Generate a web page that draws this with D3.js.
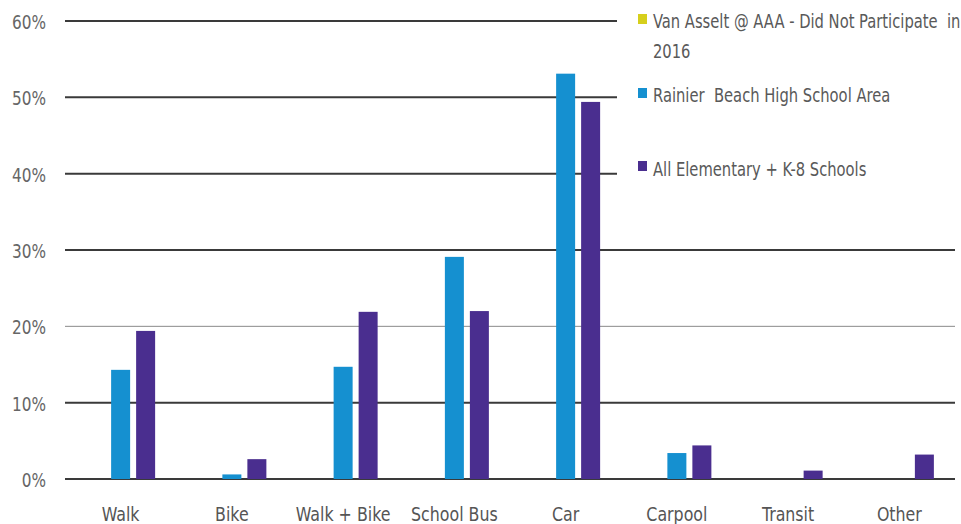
<!DOCTYPE html>
<html><head><meta charset="utf-8">
<script src="https://cdn.jsdelivr.net/npm/d3@7"></script>
<style>
body{margin:0;background:#fff;}
text{font-family:"DejaVu Sans Condensed","DejaVu Sans",sans-serif;}
</style></head>
<body><svg id="c" width="961" height="524"></svg>
<script>
const categories = ["Walk","Bike","Walk + Bike","School Bus","Car","Carpool","Transit","Other"];
const seriesNames = ["Van Asselt @ AAA - Did Not Participate  in 2016","Rainier  Beach High School Area","All Elementary + K-8 Schools"];
const vanAsselt = [0,0,0,0,0,0,0,0];
const rainierBeach = [14.3,0.6,14.7,29.1,53.1,3.4,0,0];
const allElementary = [19.4,2.6,21.9,22.0,49.4,4.4,1.1,3.2];
const yTicks = [0,10,20,30,40,50,60];
const colors = ["#d6cf1c","#1590d0","#4a2e8f"];
const seriesValues = [vanAsselt, rainierBeach, allElementary];

const svg = d3.select("#c");
const x = d3.scaleBand().domain(categories).range([65,955]).padding(0);
const x1 = d3.scaleBand().domain([0,1,2]).range([-34.5,34.5]).paddingInner(0.24);
const y = d3.scaleLinear().domain([0,60]).range([479,21]);
const SX = 0.85;

// gridlines
const gridEnd = v => v >= 40 ? 617 : 955;
svg.append("g").selectAll("line").data(yTicks).join("line")
  .attr("x1",65).attr("x2",d=>gridEnd(d))
  .attr("y1",d=>y(d)).attr("y2",d=>y(d))
  .attr("stroke",d=>d===20?"#8a8a8a":"#3a3a3a")
  .attr("stroke-width",d=>d===20?1:2);

// y labels
svg.append("g").selectAll("text").data(yTicks).join("text")
  .attr("transform",d=>`translate(46,${y(d)+8}) scale(${SX},1)`)
  .attr("text-anchor","end").attr("font-size",20).attr("fill","#666")
  .text(d=>d+"%");

// bars
const groups = svg.append("g").selectAll("g").data(categories).join("g")
  .attr("transform",d=>`translate(${x(d)+x.bandwidth()/2},0)`);
groups.selectAll("rect").data((d,i)=>seriesValues.map((s,j)=>({j,v:s[i]})).filter(e=>e.v>0)).join("rect")
  .attr("x",d=>x1(d.j)).attr("width",x1.bandwidth())
  .attr("y",d=>y(d.v)).attr("height",d=>y(0)-y(d.v))
  .attr("fill",d=>colors[d.j]);

// x labels
svg.append("g").selectAll("text").data(categories).join("text")
  .attr("transform",d=>`translate(${x(d)+x.bandwidth()/2},521) scale(0.88,1)`)
  .attr("text-anchor","middle").attr("font-size",20).attr("fill","#555")
  .text(d=>d);

// legend
const legSq = [14,88,161];
const legBase = [28,102,176];
const leg = svg.append("g");
seriesNames.forEach((n,i)=>{
  leg.append("rect").attr("x",638).attr("y",legSq[i]).attr("width",9).attr("height",10).attr("fill",colors[i]);
  const t = leg.append("text").attr("transform",`translate(653,${legBase[i]}) scale(0.82,1)`)
    .attr("font-size",20).attr("fill","#595959").style("white-space","pre");
  if(i===0){
    t.append("tspan").attr("x",0).text("Van Asselt @ AAA - Did Not Participate  in");
    t.append("tspan").attr("x",0).attr("dy",30).text("2016");
  } else t.text(n);
});
</script></body></html>
